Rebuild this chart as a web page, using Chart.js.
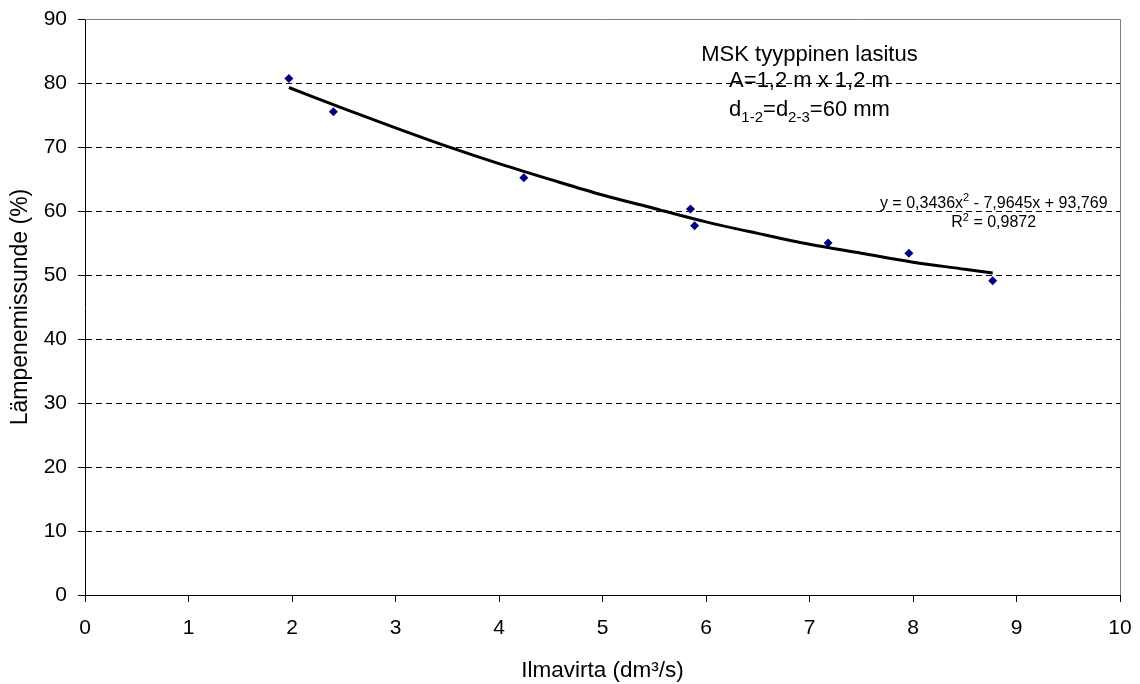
<!DOCTYPE html>
<html>
<head>
<meta charset="utf-8">
<script src="https://cdn.jsdelivr.net/npm/chart.js@4/dist/chart.umd.min.js"></script>
<style>
  html, body { margin: 0; padding: 0; background: #fff; }
  #wrap { width: 1140px; height: 684px; }
</style>
</head>
<body>
<div id="wrap"><canvas id="chart" width="1140" height="684"></canvas></div>
<script>
// measured points (air flow, heat gain)
const flowX = [1.97, 2.40, 4.24, 5.85, 5.89, 7.18, 7.96, 8.77];
const gainY = [80.7, 75.5, 65.2, 60.3, 57.7, 55.0, 53.4, 49.1];

// polynomial trend line
const trendX = [1.97, 2.5, 3, 3.5, 4, 4.5, 5, 5.5, 6, 6.5, 7, 7.5, 8, 8.5, 8.77];
const trendY = [79.3, 76.0, 73.0, 70.1, 67.4, 64.9, 62.5, 60.4, 58.3, 56.5, 54.8, 53.4, 52.0, 50.9, 50.3];

const xTicks = [0, 1, 2, 3, 4, 5, 6, 7, 8, 9, 10];
const yTicks = [0, 10, 20, 30, 40, 50, 60, 70, 80, 90];

const FONT = 'Liberation Sans, Arial, sans-serif';

// centred text with small sub/superscript parts
function richText(ctx, parts, cx, y, size) {
  const small = Math.round(size * 0.68);
  let w = 0;
  parts.forEach(p => {
    ctx.font = (p[1] ? small : size) + 'px ' + FONT;
    w += ctx.measureText(p[0]).width;
  });
  let x = cx - w / 2;
  parts.forEach(p => {
    ctx.font = (p[1] ? small : size) + 'px ' + FONT;
    const dy = p[1] === 'sub' ? size * 0.28 : p[1] === 'sup' ? -size * 0.4 : 0;
    ctx.fillText(p[0], x, y + dy);
    x += ctx.measureText(p[0]).width;
  });
}

// frame + annotations
const extras = {
  id: 'extras',
  afterDraw(chart) {
    const { ctx, chartArea: a, scales: { x, y } } = chart;
    ctx.save();
    ctx.strokeStyle = '#808080';
    ctx.lineWidth = 1;
    ctx.beginPath();
    ctx.moveTo(a.left, a.top + 0.5);
    ctx.lineTo(a.right + 0.5, a.top + 0.5);
    ctx.lineTo(a.right + 0.5, a.bottom);
    ctx.stroke();

    ctx.fillStyle = '#000';
    ctx.textBaseline = 'alphabetic';
    ctx.textAlign = 'left';
    const tx = x.getPixelForValue(7.0);
    richText(ctx, [['MSK tyyppinen lasitus']], tx, y.getPixelForValue(83.5), 22);
    richText(ctx, [['A=1,2 m x 1,2 m']], tx, y.getPixelForValue(79.4), 22);
    richText(ctx, [['d'], ['1-2', 'sub'], ['=d'], ['2-3', 'sub'], ['=60 mm']], tx, y.getPixelForValue(74.8), 22);

    // equation of the trend line
    const ex = x.getPixelForValue(8.78);
    richText(ctx, [['y = 0,3436x'], ['2', 'sup'], [' - 7,9645x + 93,769']], ex, y.getPixelForValue(60.5), 16);
    richText(ctx, [['R'], ['2', 'sup'], [' = 0,9872']], ex, y.getPixelForValue(57.5), 16);
    ctx.restore();
  }
};

new Chart(document.getElementById('chart'), {
  type: 'scatter',
  data: {
    datasets: [
      {
        label: 'Mittaus',
        data: flowX.map((v, i) => ({ x: v, y: gainY[i] })),
        pointStyle: 'rectRot',
        pointRadius: 4.5,
        backgroundColor: '#000080',
        borderColor: '#000080',
        borderWidth: 0,
        order: 1
      },
      {
        label: 'Trendi',
        type: 'line',
        data: trendX.map((v, i) => ({ x: v, y: trendY[i] })),
        borderColor: '#000',
        borderWidth: 3,
        pointRadius: 0,
        cubicInterpolationMode: 'monotone',
        fill: false,
        order: 2
      }
    ]
  },
  options: {
    responsive: false,
    animation: false,
    layout: { padding: { left: 0, right: 20, top: 19, bottom: 0 } },
    plugins: { legend: { display: false }, tooltip: { enabled: false } },
    scales: {
      x: {
        type: 'linear',
        min: 0, max: 10,
        afterBuildTicks: s => { s.ticks = xTicks.map(v => ({ value: v })); },
        afterFit: s => { s.height = 89; s.paddingLeft = 0; s.paddingRight = 0; },
        ticks: { color: '#000', font: { family: FONT, size: 21 }, padding: 14, maxRotation: 0 },
        grid: { drawOnChartArea: false, drawTicks: true, tickLength: 7, color: '#000' },
        border: { color: '#000', width: 1 },
        title: { display: true, text: 'Ilmavirta (dm³/s)', color: '#000', font: { family: FONT, size: 22.5 }, padding: { top: 4.5, bottom: 0 } }
      },
      y: {
        min: 0, max: 90,
        afterBuildTicks: s => { s.ticks = yTicks.map(v => ({ value: v })); },
        afterFit: s => { s.width = 85; s.paddingTop = 0; s.paddingBottom = 0; },
        ticks: { color: '#000', font: { family: FONT, size: 21 }, padding: 11 },
        grid: {
          color: c => (c.tick && (c.tick.value === 0 || c.tick.value === 90)) ? 'rgba(0,0,0,0)' : '#000',
          tickColor: '#000',
          tickLength: 7,
          lineWidth: 1
        },
        border: { color: '#000', width: 1, dash: [6, 4] },
        title: { display: true, text: 'Lämpenemissunde (%)', color: '#000', font: { family: FONT, size: 23 }, padding: { top: 7, bottom: 0 } }
      }
    }
  },
  plugins: [extras]
});
</script>
</body>
</html>
